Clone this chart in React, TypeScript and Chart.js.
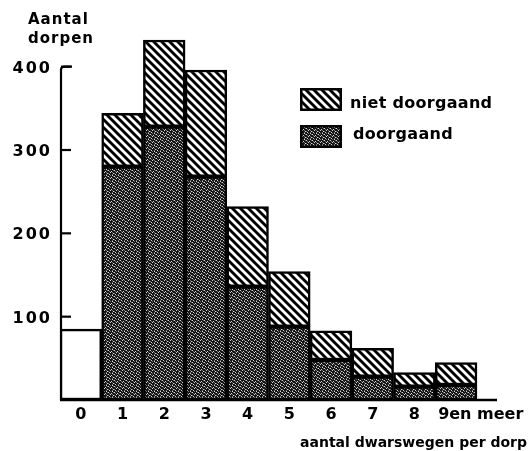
import React, { useEffect, useRef } from "react";
import { Chart, registerables } from "chart.js";

Chart.register(...registerables);

// ---- data ----
const categories = ["0", "1", "2", "3", "4", "5", "6", "7", "8", "9en meer"];
const geenDwarswegen = [85, null, null, null, null, null, null, null, null, null];
const doorgaand = [null, 280, 328, 268, 136, 88, 48, 28, 16, 18];
const nietDoorgaand = [null, 64, 104, 128, 96, 66, 35, 34, 17, 27];
const yTicks = [100, 200, 300, 400];
const yTitle = ["Aantal", "dorpen"];
const xTitle = "aantal dwarswegen per dorp";
const legendLabels = ["niet doorgaand", "doorgaand"];

const FONT = '"DejaVu Sans", sans-serif';

function makeHatch(): CanvasPattern | string {
  const s = 8;
  const c = document.createElement("canvas");
  c.width = s;
  c.height = s;
  const g = c.getContext("2d");
  if (!g) return "#888";
  g.fillStyle = "#fff";
  g.fillRect(0, 0, s, s);
  g.strokeStyle = "#000";
  g.lineWidth = 2.9;
  for (const k of [-1, 0, 1]) {
    g.beginPath();
    g.moveTo(-s, -s + k * s);
    g.lineTo(2 * s, 2 * s + k * s);
    g.stroke();
  }
  return g.createPattern(c, "repeat") || "#888";
}

function makeStipple(): CanvasPattern | string {
  const map = [
    "X.XXoX",
    "XXoX.X",
    ".XXXXo",
    "XoX.XX",
    "XX.XoX",
    "oXXXX.",
  ];
  const n = map.length;
  const c = document.createElement("canvas");
  c.width = n;
  c.height = n;
  const g = c.getContext("2d");
  if (!g) return "#444";
  const img = g.createImageData(n, n);
  for (let y = 0; y < n; y++) {
    for (let x = 0; x < n; x++) {
      const ch = map[y][x];
      const v = ch === "." ? 215 : ch === "o" ? 110 : 20;
      const i = (y * n + x) * 4;
      img.data[i] = v;
      img.data[i + 1] = v;
      img.data[i + 2] = v;
      img.data[i + 3] = 255;
    }
  }
  g.putImageData(img, 0, 0);
  return g.createPattern(c, "repeat") || "#444";
}

export default function App() {
  const ref = useRef<HTMLCanvasElement | null>(null);

  useEffect(() => {
    const canvas = ref.current;
    if (!canvas) return;
    const hatch = makeHatch();
    const stipple = makeStipple();

    const toPts = (arr: (number | null)[]) => arr.map((v, i) => ({ x: i, y: v }));

    const decor = {
      id: "decor",
      afterDraw(chart: any) {
        const ctx = chart.ctx as CanvasRenderingContext2D;
        const xs = chart.scales.x;
        const ys = chart.scales.y;
        const left = chart.chartArea.left;
        const right = chart.chartArea.right;
        const y0 = ys.getPixelForValue(0);
        ctx.save();
        ctx.strokeStyle = "#000";
        ctx.fillStyle = "#000";
        ctx.lineCap = "butt";

        // y axis with top hook
        const yTop = ys.getPixelForValue(yTicks[yTicks.length - 1]);
        ctx.lineWidth = 2.2;
        ctx.beginPath();
        ctx.moveTo(left + 1, y0);
        ctx.lineTo(left + 1, yTop + 3);
        ctx.quadraticCurveTo(left + 1, yTop, left + 5, yTop);
        ctx.lineTo(left + 12, yTop);
        ctx.stroke();
        for (const v of yTicks) {
          const py = ys.getPixelForValue(v);
          ctx.beginPath();
          ctx.moveTo(left + 1, py);
          ctx.lineTo(left + 11, py);
          ctx.stroke();
        }

        // baseline
        ctx.lineWidth = 2.6;
        ctx.beginPath();
        ctx.moveTo(left, y0);
        ctx.lineTo(right, y0);
        ctx.stroke();

        // y tick labels
        ctx.font = `bold 16px ${FONT}`;
        (ctx as any).letterSpacing = "2px";
        ctx.textAlign = "right";
        ctx.textBaseline = "alphabetic";
        for (const v of yTicks) {
          const py = ys.getPixelForValue(v);
          ctx.fillText(String(v), 52, py + 6);
        }

        // x tick labels
        (ctx as any).letterSpacing = "0px";
        ctx.font = `bold 16px ${FONT}`;
        ctx.textAlign = "left";
        categories.forEach((lab, i) => {
          const px = xs.getPixelForValue(i);
          const off = lab.length > 1 ? 18 : ctx.measureText(lab[0]).width / 2;
          ctx.fillText(lab, px - off, 419);
        });

        // x title
        ctx.font = `bold 14px ${FONT}`;
        ctx.textAlign = "right";
        ctx.fillText(xTitle, 527, 447);

        // y title
        ctx.font = `bold 15px ${FONT}`;
        (ctx as any).letterSpacing = "1px";
        ctx.textAlign = "left";
        ctx.fillText(yTitle[0], 28, 24);
        ctx.fillText(yTitle[1], 28, 43);

        // legend
        const boxes = [
          { y: 88, fill: hatch, label: legendLabels[0], base: 108, tx: 350 },
          { y: 125, fill: stipple, label: legendLabels[1], base: 139, tx: 353 },
        ];
        ctx.font = `bold 16px ${FONT}`;
        (ctx as any).letterSpacing = "0.3px";
        for (const b of boxes) {
          ctx.fillStyle = b.fill as any;
          ctx.fillRect(300, b.y, 42, 23);
          ctx.lineWidth = 2.5;
          ctx.strokeStyle = "#000";
          ctx.strokeRect(301.25, b.y + 1.25, 39.5, 20.5);
          ctx.fillStyle = "#000";
          ctx.fillText(b.label, b.tx, b.base);
        }
        ctx.restore();
      },
    };

    const chart = new Chart(canvas, {
      type: "bar",
      data: {
        datasets: [
          {
            label: "0",
            data: toPts(geenDwarswegen) as any,
            backgroundColor: "#ffffff",
            borderColor: "#000",
            borderWidth: 2.5,
            borderSkipped: false,
          },
          {
            label: legendLabels[1],
            data: toPts(doorgaand) as any,
            backgroundColor: stipple as any,
            borderColor: "#000",
            borderWidth: 2.5,
            borderSkipped: false,
          },
          {
            label: legendLabels[0],
            data: toPts(nietDoorgaand) as any,
            backgroundColor: hatch as any,
            borderColor: "#000",
            borderWidth: 2.5,
            borderSkipped: false,
          },
        ],
      },
      options: {
        animation: false,
        responsive: false,
        devicePixelRatio: 1,
        layout: { padding: { left: 60, right: 32, top: 25, bottom: 51 } },
        datasets: { bar: { categoryPercentage: 1, barPercentage: 1 } } as any,
        plugins: { legend: { display: false }, tooltip: { enabled: false }, title: { display: false } },
        scales: {
          x: { type: "linear", display: false, stacked: true, min: -0.5, max: 9.98, offset: false },
          y: { type: "linear", display: false, stacked: true, min: 0, max: 450 },
        },
      },
      plugins: [decor],
    });

    return () => chart.destroy();
  }, []);

  return (
    <div style={{ position: "absolute", left: 0, top: 0, width: 529, height: 451, background: "#fff" }}>
      <canvas ref={ref} width={529} height={451} style={{ display: "block" }} />
    </div>
  );
}
